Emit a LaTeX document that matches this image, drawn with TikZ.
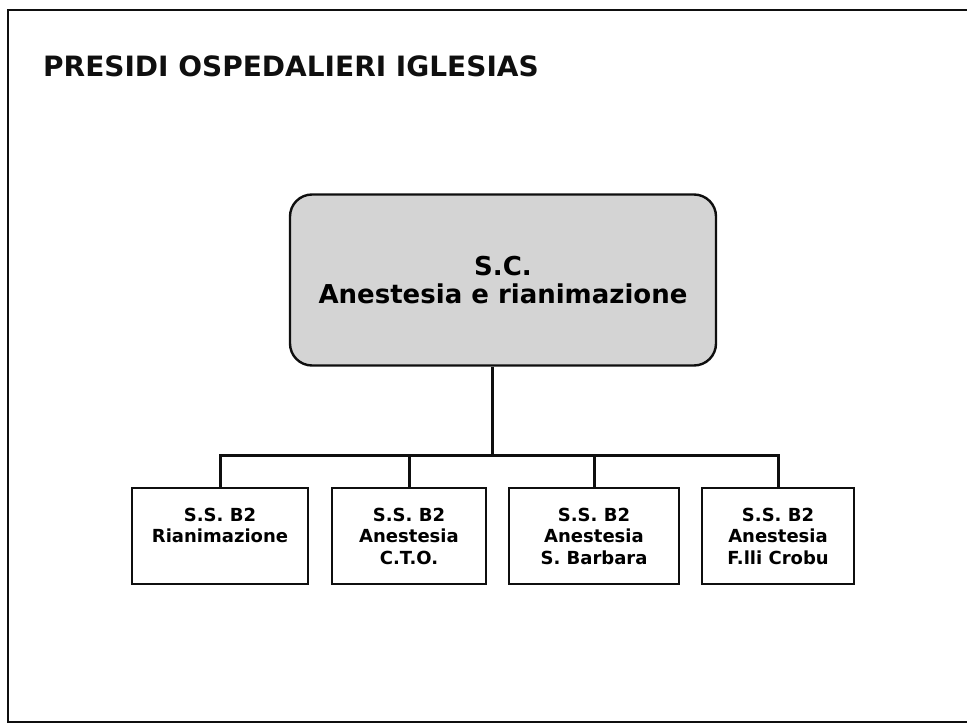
\documentclass[tikz,border=0pt]{standalone}
\usepackage{fontspec}
\setmainfont{DejaVu Sans}
\usepackage{xcolor}
\usepackage{tikz}
\definecolor{boxgray}{RGB}{212, 212, 212}
\definecolor{inkblack}{RGB}{15, 15, 15}
\tikzset{
  headline/.style={inner sep=0pt, text=inkblack,
    font=\fontsize{28}{30}\selectfont\bfseries},
  mainbox/.style={rectangle, rounded corners=22pt, minimum width=426pt,
    minimum height=171pt, align=center, draw=inkblack, line width=2.4pt,
    fill=boxgray, font=\fontsize{26}{28}\selectfont\bfseries},
  unitbox/.style={rectangle, minimum height=96pt, align=center,
    draw=inkblack, line width=1.8pt, fill=white,
    font=\fontsize{18}{21.5}\selectfont\bfseries},
  frameline/.style={draw=inkblack, line width=2.6pt},
  link/.style={draw=inkblack, line width=3pt}
}
\begin{document}
\begin{tikzpicture}[x=1pt, y=-1pt]
\useasboundingbox (0,0) rectangle (967,727);
\draw[frameline] (967,10) -- (8,10) -- (8,722) -- (967,722);

\node (head)    [headline, anchor=base west] at (43,77) {PRESIDI OSPEDALIERI IGLESIAS};
\node (sc)      [mainbox] at (503,280) {S.C.\\Anestesia e rianimazione};
\node (rian)    [unitbox, minimum width=176pt] at (220,536) {S.S. B2\\Rianimazione\\\phantom{X}};
\node (cto)     [unitbox, minimum width=154pt] at (409,536) {S.S. B2\\Anestesia\\C.T.O.};
\node (barbara) [unitbox, minimum width=170pt] at (594,536) {S.S. B2\\Anestesia\\S. Barbara};
\node (crobu)   [unitbox, minimum width=152pt] at (778,536) {S.S. B2\\Anestesia\\F.lli Crobu};

\coordinate (bus) at (492,455);
\draw[link] (sc.south -| bus) -- (bus);
\draw[link] (rian.north) -- (rian.north |- bus) -- (crobu.north |- bus) -- (crobu.north);
\draw[link] (cto.north) -- (cto.north |- bus);
\draw[link] (barbara.north) -- (barbara.north |- bus);
\end{tikzpicture}
\end{document}
